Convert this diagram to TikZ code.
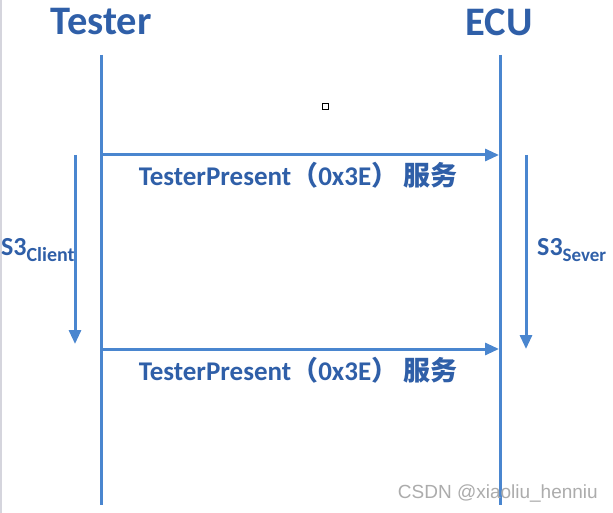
\documentclass[tikz,border=0pt]{standalone}
\usepackage{fontspec}
\setmainfont{Carlito}
\newfontfamily\cjkfont{Noto Sans CJK SC}
\newfontfamily\wmfont{Liberation Sans}
\usetikzlibrary{arrows.meta}
\definecolor{lineblue}{HTML}{4A86CF}
\definecolor{textblue}{HTML}{2F5FA8}
\tikzset{
  life/.style={draw=lineblue, line width=3pt},
  msg/.style={draw=lineblue, line width=3pt, -{Triangle[length=14pt,width=12pt]}},
  title/.style={font=\fontsize{40.5}{44}\selectfont\bfseries, text=textblue, inner sep=0pt},
  lbl/.style={font=\fontsize{27}{30}\selectfont\bfseries, text=textblue, inner sep=0pt},
  s3/.style={font=\fontsize{26}{28}\selectfont\bfseries, text=textblue, inner sep=0pt},
}
\begin{document}
\begin{tikzpicture}[x=1pt,y=-1pt]
\useasboundingbox (0,0) rectangle (613,513);
\fill[white] (0,0) rectangle (613,513);
\draw[color=blue!10!gray!30, line width=1.5pt] (1,0) -- (1,513);
% titles
\node[title] (T) at (101,22) {Tester};
\node[title] (E) at (499,22) {ECU};
% lifelines
\coordinate (tTop) at (101,55);
\coordinate (tBot) at (101,505);
\coordinate (eTop) at (500,55);
\coordinate (eBot) at (500,505);
\draw[life] (tTop) -- (tBot);
\draw[life] (eTop) -- (eBot);
% messages
\coordinate (m1s) at (101,155);
\coordinate (m1e) at (499,155);
\coordinate (m2s) at (101,349);
\coordinate (m2e) at (499,349);
\draw[msg] (m1s) -- (m1e);
\draw[msg] (m2s) -- (m2e);
\node[lbl] (L1) at (298,175) {TesterPresent{\cjkfont（}0x3E{\cjkfont ）}\hspace{5pt}{\cjkfont 服务}};
\node[lbl] (L2) at (298,370) {TesterPresent{\cjkfont（}0x3E{\cjkfont ）}\hspace{5pt}{\cjkfont 服务}};
% S3 timers
\coordinate (cS) at (75,155);
\coordinate (cE) at (75,344);
\coordinate (sS) at (526,155);
\coordinate (sE) at (526,349);
\draw[msg] (cS) -- (cE);
\draw[msg] (sS) -- (sE);
\node[s3, anchor=west] (SC) at (1,250) {S3\raisebox{-6pt}{\fontsize{20}{22}\selectfont Client}};
\node[s3, anchor=west] (SS) at (537,250) {S3\raisebox{-6pt}{\fontsize{19}{21}\selectfont Sever}};
% small square
\node[draw=black, line width=1pt, minimum size=6pt, inner sep=0pt] (sq) at (325,107) {};
% watermark
\node[font=\wmfont\fontsize{19}{21}\selectfont, text=gray!65, anchor=east, inner sep=0pt] (wm) at (598,494) {CSDN @xiaoliu\_henniu};
\end{tikzpicture}
\end{document}
